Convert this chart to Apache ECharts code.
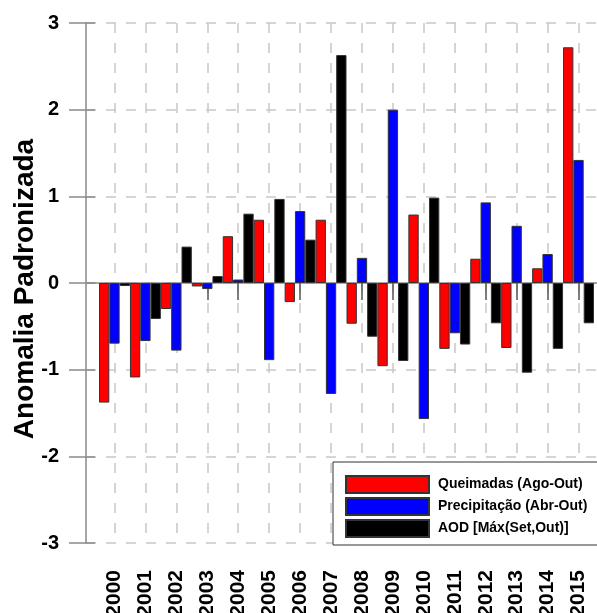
<!DOCTYPE html>
<html>
<head>
<meta charset="utf-8">
<script src="https://cdn.jsdelivr.net/npm/echarts@6/dist/echarts.min.js"></script>
<style>
html,body{margin:0;padding:0;background:#fff;}
#c{width:597px;height:613px;}
</style>
</head>
<body>
<div id="c"></div>
<script>
const years = ['2000','2001','2002','2003','2004','2005','2006','2007','2008','2009','2010','2011','2012','2013','2014','2015'];
const queimadas = [-1.38, -1.09, -0.30, -0.04, 0.54, 0.73, -0.22, 0.73, -0.47, -0.96, 0.79, -0.76, 0.28, -0.75, 0.17, 2.72];
const precipitacao = [-0.70, -0.67, -0.78, -0.07, 0.04, -0.89, 0.83, -1.28, 0.29, 2.00, -1.57, -0.58, 0.93, 0.66, 0.335, 1.42];
const aod = [-0.035, -0.415, 0.42, 0.08, 0.80, 0.97, 0.50, 2.63, -0.62, -0.90, 0.985, -0.71, -0.465, -1.035, -0.76, -0.465];
const seriesNames = ['Queimadas (Ago-Out)', 'Precipitação (Abr-Out)', 'AOD [Máx(Set,Out)]'];
const yMin = -3, yMax = 3, yStep = 1;
const yTitle = 'Anomalia Padronizada';

const FONT = 'Liberation Sans, Arial, sans-serif';
const grey = '#8a8a8a';
const dash = {color:'#c8c8c8', width:1.5, type:[10,10]};

const chart = echarts.init(document.getElementById('c'), null, {renderer:'canvas'});
const mkBar = (name, data, color) => ({
  name, type:'bar', data, xAxisIndex:1, yAxisIndex:1,
  barGap:'0%', barCategoryGap:'0%',
  itemStyle:{color, borderColor:'#333', borderWidth:1},
  z:3
});
chart.setOption({
  animation:false,
  backgroundColor:'#fff',
  textStyle:{fontFamily:FONT},
  grid:[
    {left:86, right:0, top:23, bottom:70, containLabel:false, outerBoundsMode:'none'},
    {left:99, right:3, top:23, bottom:70, containLabel:false, outerBoundsMode:'none'}
  ],
  xAxis:[
    {gridIndex:0, type:'value', min:0, max:1, show:true,
     axisLine:{show:true, lineStyle:{color:grey, width:1.5}},
     axisTick:{show:false}, axisLabel:{show:false}, splitLine:{show:false}},
    {gridIndex:1, type:'category', data:years,
     axisLine:{show:false},
     axisTick:{show:true, alignWithLabel:true, length:17, lineStyle:{color:'#555', width:1.5}},
     axisLabel:{rotate:90, fontSize:21, fontWeight:'bold', color:'#000', margin:27, fontFamily:FONT},
     splitLine:{show:true, alignWithLabel:true, lineStyle:dash}}
  ],
  yAxis:[
    {gridIndex:0, type:'value', min:yMin, max:yMax, interval:yStep,
     name:yTitle, nameLocation:'middle', nameGap:47, nameMoveOverlap:false,
     nameTextStyle:{fontSize:28, fontWeight:'bold', color:'#000', fontFamily:FONT, padding:[0,12,0,0]},
     axisLine:{show:true, lineStyle:{color:grey, width:1.5}},
     axisTick:{show:true, length:17, lineStyle:{color:grey, width:1.5}},
     axisLabel:{fontSize:20, fontWeight:'bold', color:'#000', margin:27, fontFamily:FONT},
     splitLine:{show:true, lineStyle:dash}},
    {gridIndex:1, type:'value', min:yMin, max:yMax, interval:yStep, show:false,
     splitLine:{show:false}},
    {gridIndex:0, type:'value', min:yMin, max:yMax, interval:yStep, position:'left',
     axisLine:{show:false}, axisLabel:{show:false}, splitLine:{show:false},
     axisTick:{show:true, inside:true, length:9, lineStyle:{color:grey, width:1.5}}}
  ],
  legend:{
    orient:'vertical', left:333, top:462,
    padding:[13,60,7,12],
    itemWidth:83, itemHeight:17, itemGap:3,
    icon:'rect',
    backgroundColor:'#fff', borderColor:'#333', borderWidth:1,
    textStyle:{fontSize:14, fontWeight:'bold', color:'#000', fontFamily:FONT, lineHeight:17, padding:[0,0,0,4]},
    data:seriesNames
  },
  series:[
    mkBar(seriesNames[0], queimadas, '#ff0000'),
    mkBar(seriesNames[1], precipitacao, '#0000ff'),
    mkBar(seriesNames[2], aod, '#000000')
  ]
});
</script>
</body>
</html>
